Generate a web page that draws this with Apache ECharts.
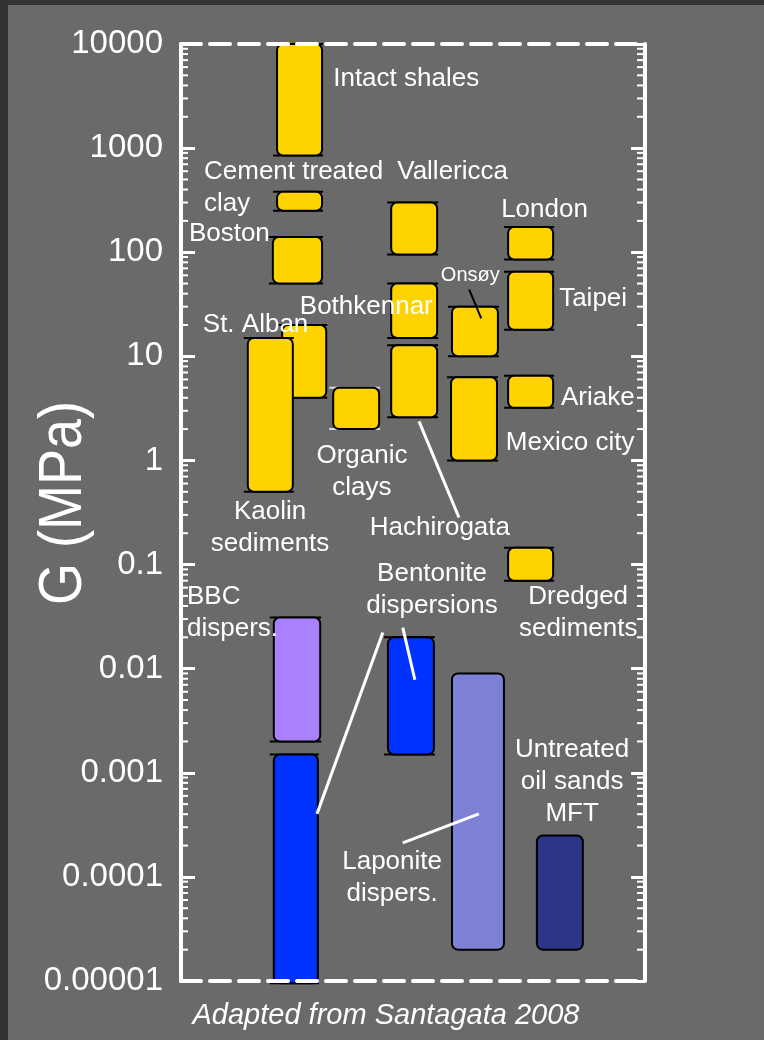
<!DOCTYPE html>
<html>
<head>
<meta charset="utf-8">
<script src="https://cdn.jsdelivr.net/npm/echarts@6/dist/echarts.min.js"></script>
<style>
  html, body { margin: 0; padding: 0; background: #333333; width: 764px; height: 1040px; overflow: hidden; }
  #chart { position: absolute; left: 8px; top: 5px; width: 756px; height: 1035px; }
</style>
</head>
<body>
<div id="chart"></div>
<script>
// ---- Shear modulus G (MPa) ranges of soils and clay dispersions ----
const materials = [
  'St. Alban', 'Kaolin sediments', 'Intact shales', 'Cement treated clay', 'Boston',
  'BBC dispersions', 'Bentonite dispersions', 'Organic clays', 'Vallericca', 'Bothkennar',
  'Hachirogata', 'Bentonite dispersions', 'Onsøy', 'Mexico city', 'Laponite dispersions',
  'London', 'Taipei', 'Ariake', 'Dredged sediments', 'Untreated oil sands MFT'
];
const gLow  = [4, 0.5, 850, 250, 50, 0.002, 0.0000095, 2, 95, 15, 2.6, 0.0015, 10, 1, 0.00002, 85, 18, 3.2, 0.07, 0.00002];
const gHigh = [20, 15, 10000, 380, 140, 0.031, 0.0015, 5, 300, 50, 12.8, 0.02, 30, 6.3, 0.009, 175, 65, 6.5, 0.145, 0.00025];
// horizontal slot of each range on a 0-100 axis
const slotStart = [21.8, 14.4, 20.7, 20.7, 19.8, 20.0, 20.0, 32.8, 45.3, 45.3, 45.3, 44.6, 58.4, 58.2, 58.4, 70.5, 70.5, 70.5, 70.5, 76.7];
const slotEnd   = [31.3, 24.1, 30.4, 30.4, 30.4, 30.0, 29.5, 42.7, 55.2, 55.2, 55.2, 54.5, 68.3, 68.1, 69.6, 80.2, 80.2, 80.2, 80.2, 86.6];
const materialGroup = [
  'soil', 'soil', 'soil', 'soil', 'soil',
  'bbc', 'bentonite', 'soil', 'soil', 'soil',
  'soil', 'bentonite', 'soil', 'soil', 'laponite',
  'soil', 'soil', 'soil', 'soil', 'mft'
];
const capKind = [
  'dark', 'dark', 'dark', 'dark', 'dark',
  'dark', 'dark', 'light', 'dark', 'dark',
  'dark', 'dark', 'dark', 'dark', 'none',
  'dark', 'dark', 'dark', 'dark', 'none'
];

// ---- annotation texts, anchored in data space ----
const labelText = [
  'Intact shales', 'Cement treated\nclay', 'Vallericca', 'London', 'Boston', 'Onsøy',
  'Taipei', 'Bothkennar', 'St. Alban', 'Ariake', 'Mexico city', 'Organic\nclays',
  'Kaolin\nsediments', 'Hachirogata', 'Bentonite\ndispersions', 'BBC\ndispers.',
  'Dredged\nsediments', 'Untreated\noil sands\nMFT', 'Laponite\ndispers.'
];
const labelX = [32.8, 4.96, 46.6, 69.0, 1.7, 56.0, 81.5, 25.6, 4.7, 81.9, 70.0, 39.0, 19.2, 55.8, 54.1, 1.3, 85.6, 84.3, 45.5];
const labelG = [4616, 414, 589, 254, 150, 60.4, 35.5, 29.8, 20.0, 3.97, 1.47, 0.781, 0.224, 0.224, 0.0569, 0.0342, 0.0342, 0.000815, 0.0000975];
const labelAlign = ['left', 'left', 'left', 'left', 'left', 'left', 'left', 'left', 'left', 'left', 'left',
  'center', 'center', 'center', 'center', 'left', 'center', 'center', 'center'];
const labelSmall = [0, 0, 0, 0, 0, 1, 0, 0, 0, 0, 0, 0, 0, 0, 0, 0, 0, 0, 0];

// ---- leader lines from labels to ranges ----
const leaderFromX = [51.3, 62.1, 43.5, 47.8, 47.8];
const leaderFromG = [2.37, 44, 0.0222, 0.0248, 0.000212];
const leaderToX   = [59.9, 64.7, 29.3, 50.4, 64.2];
const leaderToG   = [0.283, 23.2, 0.000403, 0.00783, 0.000403];
const leaderDark  = [0, 1, 0, 0, 0];

// ---- axis ticks ----
const tickLabels = ['0.00001', '0.0001', '0.001', '0.01', '0.1', '1', '10', '100', '1000', '10000'];
const decades = [-5, -4, -3, -2, -1, 0, 1, 2, 3];
const minorSteps = [2, 3, 4, 5, 6, 7, 8, 9];

// ---- styling ----
const groupColor = {
  soil: '#FFD300',
  bbc: '#A981FF',
  bentonite: '#0033FF',
  laponite: '#7E80D6',
  mft: '#2E3486'
};
const capColor = { dark: '#000000', light: '#D8D8D8' };
const FONT = '"Liberation Sans", Arial, Helvetica, sans-serif';

const barData = materials.map((m, i) => [slotStart[i], slotEnd[i], gLow[i], gHigh[i], i]);
const labelData = labelText.map((t, i) => [labelX[i], labelG[i], i]);
const leaderData = leaderFromX.map((x, i) => [x, leaderFromG[i], leaderToX[i], leaderToG[i], i]);
const minorData = [];
decades.forEach(d => minorSteps.forEach(m => minorData.push([0, m * Math.pow(10, d)])));

function renderBar(params, api) {
  const i = api.value(4);
  const p0 = api.coord([api.value(0), api.value(3)]);
  const p1 = api.coord([api.value(1), api.value(2)]);
  const x = p0[0], y = p0[1], w = p1[0] - p0[0], h = p1[1] - p0[1];
  const children = [];
  const cap = capKind[i];
  if (cap !== 'none') {
    const st = { stroke: capColor[cap], lineWidth: 2 };
    children.push({ type: 'line', shape: { x1: x - 4, y1: y, x2: x + w + 1, y2: y }, style: st });
    children.push({ type: 'line', shape: { x1: x - 4, y1: y + h, x2: x + w + 1, y2: y + h }, style: st });
  }
  children.push({
    type: 'rect',
    shape: { x: x, y: y, width: w, height: h, r: 6 },
    style: { fill: groupColor[materialGroup[i]], stroke: '#000', lineWidth: 2 }
  });
  return { type: 'group', children: children };
}

function renderLabel(params, api) {
  const i = api.value(2);
  const p = api.coord([api.value(0), api.value(1)]);
  const small = labelSmall[i] === 1;
  return {
    type: 'text',
    x: p[0], y: p[1],
    style: {
      text: labelText[i],
      fill: '#ffffff',
      font: (small ? '20px ' : '26px ') + FONT,
      align: labelAlign[i],
      verticalAlign: 'middle',
      lineHeight: 32
    }
  };
}

function renderLeader(params, api) {
  const i = api.value(4);
  const a = api.coord([api.value(0), api.value(1)]);
  const b = api.coord([api.value(2), api.value(3)]);
  return {
    type: 'line',
    shape: { x1: a[0], y1: a[1], x2: b[0], y2: b[1] },
    style: { stroke: leaderDark[i] ? '#000000' : '#ffffff', lineWidth: leaderDark[i] ? 2 : 3 }
  };
}

function renderMinor(params, api) {
  const p = api.coord([0, api.value(1)]);
  const cs = params.coordSys;
  return {
    type: 'group',
    children: [
      { type: 'line', shape: { x1: cs.x, y1: p[1], x2: cs.x + 7, y2: p[1] }, style: { stroke: '#fff', lineWidth: 2 } },
      { type: 'line', shape: { x1: cs.x + cs.width, y1: p[1], x2: cs.x + cs.width - 8, y2: p[1] }, style: { stroke: '#fff', lineWidth: 2 } }
    ]
  };
}

const dashedFrame = {
  type: 'value', min: 0, max: 100, z: 6,
  axisLine: { show: true, onZero: false, lineStyle: { color: '#ffffff', width: 4, type: [20, 9] } },
  axisTick: { show: false }, axisLabel: { show: false }, splitLine: { show: false }
};

const yBase = {
  type: 'log', logBase: 10, min: 0.00001, max: 10000, z: 6,
  axisLine: { show: true, onZero: false, lineStyle: { color: '#ffffff', width: 4 } },
  axisTick: { show: true, inside: true, length: 14, lineStyle: { color: '#ffffff', width: 3 } },
  splitLine: { show: false },
  minorTick: { show: false }
};

const chart = echarts.init(document.getElementById('chart'), null, { renderer: 'canvas' });
chart.setOption({
  animation: false,
  backgroundColor: '#6A6A6A',
  grid: { left: 173, right: 119, top: 39, bottom: 59, containLabel: false },
  xAxis: [
    Object.assign({ position: 'bottom' }, dashedFrame),
    Object.assign({ position: 'top' }, dashedFrame)
  ],
  yAxis: [
    Object.assign({
      position: 'left',
      axisLabel: {
        show: true, color: '#ffffff', fontSize: 33, fontFamily: FONT, margin: 18,
        formatter: v => tickLabels[Math.round(Math.log10(v)) + 5]
      }
    }, yBase),
    Object.assign({ position: 'right', axisLabel: { show: false } }, yBase)
  ],
  graphic: [
    {
      type: 'text',
      x: 56, y: 498,
      rotation: Math.PI / 2,
      scaleY: 1.12,
      style: {
        text: 'G (MPa)', fill: '#ffffff', font: '54px ' + FONT,
        align: 'center', verticalAlign: 'middle'
      }
    },
    {
      type: 'text',
      x: 378, y: 1011,
      style: {
        text: 'Adapted from Santagata 2008', fill: '#ffffff', font: 'italic 29px ' + FONT,
        align: 'center', verticalAlign: 'middle'
      }
    }
  ],
  series: [
    {
      type: 'custom', name: 'minor ticks', xAxisIndex: 0, yAxisIndex: 0, z: 6,
      renderItem: renderMinor, data: minorData, encode: { x: 0, y: 1 }, silent: true
    },
    {
      type: 'custom', name: 'G range', xAxisIndex: 0, yAxisIndex: 0, z: 2,
      renderItem: renderBar, data: barData, encode: { x: [0, 1], y: [2, 3] }, clip: false
    },
    {
      type: 'custom', name: 'leaders', xAxisIndex: 0, yAxisIndex: 0, z: 3,
      renderItem: renderLeader, data: leaderData, encode: { x: [0, 2], y: [1, 3] }, silent: true
    },
    {
      type: 'custom', name: 'labels', xAxisIndex: 0, yAxisIndex: 0, z: 4,
      renderItem: renderLabel, data: labelData, encode: { x: 0, y: 1 }, silent: true
    }
  ]
});
</script>
</body>
</html>
